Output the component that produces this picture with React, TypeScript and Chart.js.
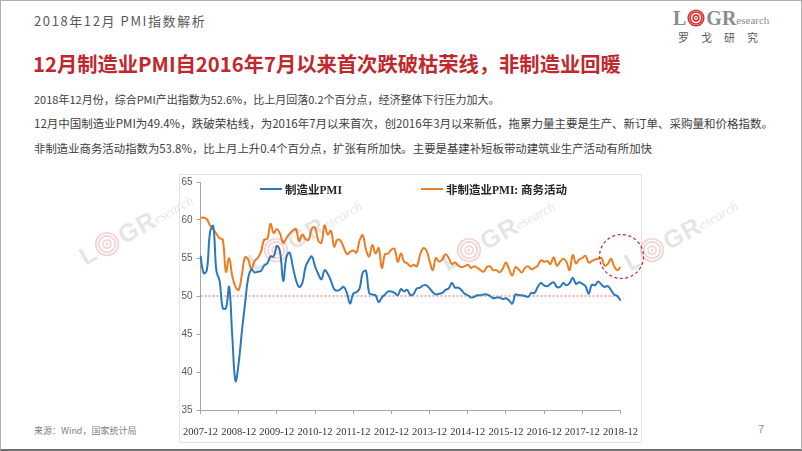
import React, { useEffect, useRef } from 'react';
import { Chart, registerables } from 'chart.js';

Chart.register(...registerables);

// ---------- data ----------
const categories: string[] = [];
for (let i = 0; i < 133; i++) {
  const k = 11 + i;
  const y = 2007 + Math.floor(k / 12);
  const m = (k % 12) + 1;
  categories.push(`${y}-${String(m).padStart(2, '0')}`);
}

const xTickLabels = [
  '2007-12', '2008-12', '2009-12', '2010-12', '2011-12', '2012-12',
  '2013-12', '2014-12', '2015-12', '2016-12', '2017-12', '2018-12',
];

const yTickValues = [35, 40, 45, 50, 55, 60, 65];

const manufacturingPMI = [
  55.3,
  53.0, 53.4, 58.4, 59.2, 53.3, 52.0, 48.4, 48.4, 51.2, 44.6, 38.8, 41.2,
  45.3, 49.0, 52.4, 53.5, 53.1, 53.2, 53.3, 54.0, 54.3, 55.2, 55.2, 56.6,
  55.8, 52.0, 55.1, 55.7, 53.9, 52.1, 51.2, 51.7, 53.8, 54.7, 55.2, 53.9,
  52.9, 52.2, 53.4, 52.9, 52.0, 50.9, 50.7, 50.9, 51.2, 50.4, 49.0, 50.3,
  50.5, 51.0, 53.1, 53.3, 50.4, 50.2, 50.1, 49.2, 49.8, 50.2, 50.6, 50.6,
  50.4, 50.1, 50.9, 50.6, 50.8, 50.1, 50.3, 51.0, 51.1, 51.4, 51.4, 51.0,
  50.5, 50.2, 50.3, 50.4, 50.8, 51.0, 51.7, 51.1, 51.1, 50.8, 50.3, 50.1,
  49.8, 49.9, 50.1, 50.1, 50.2, 50.2, 50.0, 49.7, 49.8, 49.8, 49.6, 49.7,
  49.4, 49.0, 50.2, 50.1, 50.1, 50.0, 49.9, 50.4, 50.4, 51.2, 51.7, 51.4,
  51.3, 51.6, 51.8, 51.2, 51.2, 51.7, 51.4, 51.7, 52.4, 51.6, 51.8, 51.6,
  51.3, 50.3, 51.5, 51.4, 51.9, 51.5, 51.2, 51.3, 50.8, 50.2, 50.0, 49.4,
];

const nonManufacturingPMI = [
  60.3,
  60.3, 60.1, 59.3, 58.8, 58.2, 57.6, 57.4, 53.2, 55.0, 52.6, 51.2, 50.8,
  52.8, 55.1, 54.8, 53.5, 54.6, 55.0, 55.8, 57.4, 57.5, 59.5, 58.3, 58.8,
  58.2, 57.0, 57.6, 58.2, 58.6, 58.8, 57.2, 58.1, 57.5, 57.4, 58.9, 59.0,
  57.3, 57.0, 59.3, 58.1, 58.6, 56.5, 57.4, 57.3, 56.4, 55.5, 55.8, 56.0,
  55.7, 57.3, 58.0, 56.1, 55.2, 56.7, 55.6, 56.3, 53.7, 55.5, 55.6, 56.1,
  56.2, 54.5, 55.6, 54.5, 54.3, 53.9, 54.1, 53.9, 55.4, 56.3, 56.0, 54.6,
  53.4, 55.0, 54.5, 54.8, 55.5, 55.0, 54.2, 54.4, 54.0, 53.8, 53.9, 54.1,
  53.7, 53.9, 53.7, 53.4, 53.2, 53.8, 53.9, 53.4, 53.4, 53.1, 53.6, 54.4,
  53.5, 52.7, 53.8, 53.5, 53.1, 53.7, 53.9, 53.5, 53.7, 54.0, 54.7, 54.5,
  54.6, 54.2, 55.1, 54.0, 54.5, 54.9, 54.5, 53.4, 55.4, 54.3, 54.8, 55.0,
  55.3, 54.4, 54.6, 54.8, 54.9, 55.0, 54.0, 54.2, 54.9, 53.9, 53.4, 53.8,
];

const thresholdValue = 50;
const highlightCenterValue = 55.2;

const seriesNames = ['制造业PMI', '非制造业PMI: 商务活动'];
const seriesColors = ['#2a79bd', '#ec7d22'];

const CJK = "'Noto Sans CJK SC', 'Noto Sans', sans-serif";

// ---------- plugins ----------
const thresholdPlugin = {
  id: 'threshold',
  beforeDatasetsDraw(chart: any) {
    const { ctx, chartArea, scales } = chart;
    const y = scales.y.getPixelForValue(thresholdValue);
    ctx.save();
    ctx.strokeStyle = '#e06666';
    ctx.lineWidth = 1;
    ctx.setLineDash([2, 2]);
    ctx.beginPath();
    ctx.moveTo(chartArea.left, y);
    ctx.lineTo(chartArea.right, y);
    ctx.stroke();
    ctx.restore();
  },
};

const highlightPlugin = {
  id: 'highlight',
  afterDatasetsDraw(chart: any) {
    const { ctx, scales } = chart;
    const x = scales.x.getPixelForValue(categories.length - 1);
    const y = scales.y.getPixelForValue(highlightCenterValue);
    ctx.save();
    ctx.strokeStyle = '#c0282d';
    ctx.lineWidth = 1.2;
    ctx.setLineDash([3, 2.5]);
    ctx.beginPath();
    ctx.arc(x + 1, y, 22, 0, Math.PI * 2);
    ctx.stroke();
    ctx.restore();
  },
};

// ---------- small components ----------
function Rings({ size, color }: { size: number; color: string }) {
  const c = size / 2;
  return (
    <svg width={size} height={size} style={{ display: 'block' }}>
      <circle cx={c} cy={c} r={c - 1.2} fill="none" stroke={color} strokeWidth={1.6} />
      <circle cx={c} cy={c} r={c * 0.66} fill="none" stroke={color} strokeWidth={1.6} />
      <circle cx={c} cy={c} r={c * 0.32} fill="none" stroke={color} strokeWidth={1.6} />
      <circle cx={c} cy={c} r={c * 0.1} fill={color} />
    </svg>
  );
}

function Watermark({ left, top }: { left: number; top: number }) {
  return (
    <div
      style={{
        position: 'absolute',
        left,
        top,
        transform: 'rotate(-29deg)',
        transformOrigin: 'left center',
        opacity: 0.22,
        pointerEvents: 'none',
        display: 'flex',
        alignItems: 'center',
        height: 30,
        fontFamily: "'Liberation Sans', sans-serif",
        fontWeight: 'bold',
        color: '#8a8a8a',
        fontSize: 25,
        lineHeight: '30px',
        whiteSpace: 'nowrap',
      }}
    >
      <span>L</span>
      <span style={{ margin: '0 2px' }}>
        <Rings size={25} color="#d8262c" />
      </span>
      <span>G</span>
      <span style={{ marginLeft: 1 }}>R</span>
      <span style={{ fontSize: 14, fontWeight: 'normal', fontStyle: 'italic', fontFamily: "'Liberation Serif', serif", marginTop: 6 }}>esearch</span>
    </div>
  );
}

function LegendItem({ left, color, text }: { left: number; color: string; text: string }) {
  return (
    <div
      style={{
        position: 'absolute',
        left,
        top: 181,
        height: 14,
        display: 'flex',
        alignItems: 'center',
        whiteSpace: 'nowrap',
      }}
    >
      <div style={{ width: 22, height: 2, background: color, marginRight: 3 }} />
      <span
        style={{
          fontFamily: "'Liberation Serif', 'Noto Sans CJK SC', serif",
          fontWeight: 'bold',
          fontSize: 11.5,
          color: '#262626',
        }}
      >
        {text}
      </span>
    </div>
  );
}

const bodyLines = [
  { top: 90, size: 11, text: '2018年12月份，综合PMI产出指数为52.6%，比上月回落0.2个百分点，经济整体下行压力加大。' },
  { top: 114, size: 11.5, text: '12月中国制造业PMI为49.4%，跌破荣枯线，为2016年7月以来首次，创2016年3月以来新低，拖累力量主要是生产、新订单、采购量和价格指数。' },
  { top: 139, size: 11.4, text: '非制造业商务活动指数为53.8%，比上月上升0.4个百分点，扩张有所加快。主要是基建补短板带动建筑业生产活动有所加快' },
];

// ---------- main ----------
export default function App() {
  const canvasRef = useRef<HTMLCanvasElement | null>(null);

  useEffect(() => {
    if (!canvasRef.current) return;
    const chart = new Chart(canvasRef.current, {
      type: 'line',
      data: {
        labels: categories,
        datasets: [
          {
            label: seriesNames[0],
            data: manufacturingPMI,
            borderColor: seriesColors[0],
            backgroundColor: seriesColors[0],
            borderWidth: 2,
            pointRadius: 0,
            tension: 0.4,
            fill: false,
          },
          {
            label: seriesNames[1],
            data: nonManufacturingPMI,
            borderColor: seriesColors[1],
            backgroundColor: seriesColors[1],
            borderWidth: 2,
            pointRadius: 0,
            tension: 0.4,
            fill: false,
          },
        ],
      },
      options: {
        animation: false,
        responsive: false,
        maintainAspectRatio: false,
        layout: { padding: { top: 13, right: 40.5, bottom: 0, left: 0 } },
        plugins: {
          legend: { display: false },
          tooltip: { enabled: false },
        },
        scales: {
          x: {
            type: 'category',
            offset: false,
            border: { display: true, color: '#a6a6a6', width: 1 },
            grid: {
              display: true,
              drawOnChartArea: false,
              drawTicks: true,
              tickLength: 4,
              color: '#a6a6a6',
            },
            ticks: {
              autoSkip: false,
              maxRotation: 0,
              minRotation: 0,
              padding: 12,
              color: '#333333',
              font: { family: "'Liberation Serif', serif", size: 10.5 },
              callback: (_v: any, idx: number) =>
                xTickLabels.includes(categories[idx]) ? categories[idx] : null,
            },
            afterFit: (scale: any) => {
              scale.height = 39;
            },
          },
          y: {
            min: 35,
            max: 65,
            border: { display: true, color: '#a6a6a6', width: 1 },
            grid: {
              display: true,
              drawOnChartArea: false,
              drawTicks: true,
              tickLength: 4,
              color: '#a6a6a6',
            },
            afterBuildTicks: (scale: any) => {
              scale.ticks = yTickValues.map((v) => ({ value: v }));
            },
            ticks: {
              padding: 4,
              color: '#595959',
              font: { family: "'Liberation Sans', sans-serif", size: 10 },
            },
            afterFit: (scale: any) => {
              scale.width = 29.5;
            },
          },
        },
      },
      plugins: [thresholdPlugin, highlightPlugin],
    });
    return () => chart.destroy();
  }, []);

  return (
    <div
      style={{
        position: 'absolute',
        left: 0,
        top: 0,
        width: 802,
        height: 451,
        boxSizing: 'border-box',
        background: '#ffffff',
        borderTop: '1px solid #b0b0b0',
        borderLeft: '1px solid #b0b0b0',
        borderRight: '1px solid #b0b0b0',
        borderBottom: '2px solid #707070',
        overflow: 'hidden',
        fontFamily: CJK,
      }}
    >
      {/* header */}
      <div
        style={{
          position: 'absolute',
          left: 33,
          top: 12,
          fontSize: 13,
          lineHeight: '16px',
          letterSpacing: 1.6,
          color: '#595959',
          whiteSpace: 'nowrap',
        }}
      >
        2018年12月 PMI指数解析
      </div>

      {/* logo */}
      <div style={{ position: 'absolute', left: 672, top: 5, display: 'flex', alignItems: 'center', height: 24, fontFamily: "'Liberation Serif', serif", fontWeight: 'bold', color: '#8c8c8c', fontSize: 20, whiteSpace: 'nowrap' }}>
        <span>L</span>
        <span style={{ margin: '0 1px' }}>
          <Rings size={18} color="#d3302f" />
        </span>
        <span>G</span>
        <span>R</span>
        <span style={{ fontSize: 11, fontWeight: 'normal', marginTop: 4 }}>esearch</span>
      </div>
      <div style={{ position: 'absolute', left: 677, top: 29, fontSize: 11, lineHeight: '14px', letterSpacing: 12, color: '#595959', whiteSpace: 'nowrap' }}>
        罗戈研究
      </div>

      {/* title */}
      <div
        style={{
          position: 'absolute',
          left: 32,
          top: 50,
          fontSize: 20.3,
          lineHeight: '24px',
          fontWeight: 'bold',
          color: '#c0282d',
          whiteSpace: 'nowrap',
        }}
      >
        12月制造业PMI自2016年7月以来首次跌破枯荣线，非制造业回暖
      </div>

      {/* body text */}
      {bodyLines.map((l, i) => (
        <div
          key={i}
          style={{
            position: 'absolute',
            left: 33,
            top: l.top,
            fontSize: l.size,
            lineHeight: '16px',
            color: '#404040',
            whiteSpace: 'nowrap',
          }}
        >
          {l.text}
        </div>
      ))}

      {/* chart box */}
      <div
        style={{
          position: 'absolute',
          left: 178,
          top: 173,
          width: 463,
          height: 269,
          boxSizing: 'border-box',
          border: '1px solid #e4e4e4',
          background: '#ffffff',
        }}
      />
      <canvas
        ref={canvasRef}
        width={490}
        height={280}
        style={{ position: 'absolute', left: 170, top: 168, width: 490, height: 280 }}
      />

      <LegendItem left={259} color={seriesColors[0]} text={seriesNames[0]} />
      <LegendItem left={420} color={seriesColors[1]} text={seriesNames[1]} />

      {/* footer */}
      <div style={{ position: 'absolute', left: 33, top: 424, fontSize: 9, lineHeight: '12px', color: '#7f7f7f', whiteSpace: 'nowrap' }}>
        来源：Wind，国家统计局
      </div>
      <div style={{ position: 'absolute', left: 757, top: 421, fontSize: 11, lineHeight: '14px', color: '#8c8c8c', fontFamily: "'Liberation Sans', sans-serif" }}>
        7
      </div>

      {/* watermarks */}
      <Watermark left={80} top={242} />
      <Watermark left={249} top={248} />
      <Watermark left={442} top={248} />
      <Watermark left={625} top={248} />
    </div>
  );
}
